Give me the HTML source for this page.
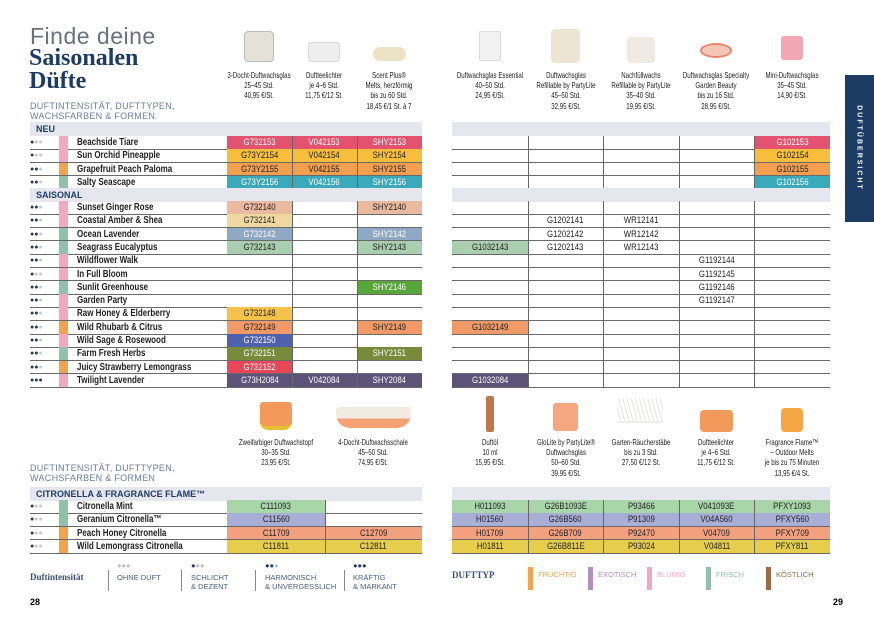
<!DOCTYPE html><html><head><meta charset="utf-8"><style>
*{margin:0;padding:0;box-sizing:border-box}
body{width:874px;height:620px;background:#fff;position:relative;overflow:hidden;font-family:"Liberation Sans",sans-serif}
.a{position:absolute}
.hdr{position:absolute;background:#e6e7ee;height:14px;font-weight:bold;font-size:9px;color:#1f3d66;padding-left:6px;line-height:14px}
.cell{position:absolute;height:13.3px;font-size:9.5px;line-height:13.3px;text-align:center;color:#222}
.cell span{display:inline-block;transform:scaleX(.82)}
.name{position:absolute;font-size:10px;font-weight:bold;line-height:13.3px;color:#222;transform:scaleX(.8);transform-origin:left;white-space:nowrap}
.hl{position:absolute;height:1px;background:#6a6a6a}
.vl{position:absolute;width:1px;background:#666}
.lab{position:absolute;font-size:8.5px;line-height:10.2px;text-align:center;color:#222;width:130px;margin-left:-65px;transform:scaleX(.72)}
.dots{position:absolute;font-size:7px;line-height:13px}
.sub{position:absolute;font-size:9px;color:#6b7ea0;line-height:10px;letter-spacing:.3px}
.lg{position:absolute;font-size:7.5px;color:#4a5f86;line-height:8.5px}
</style></head><body>
<div class="a" style="left:30px;top:23px;font-size:23px;color:#6a7080;letter-spacing:.5px">Finde deine</div>
<div class="a" style="left:29px;top:47px;font-family:'Liberation Serif',serif;font-weight:bold;font-size:24px;line-height:23px;color:#1d3c64">Saisonalen<br>Düfte</div>
<div class="sub" style="left:30px;top:101px">DUFTINTENSITÄT, DUFTTYPEN,<br>WACHSFARBEN &amp; FORMEN</div>
<div class="sub" style="left:30px;top:463px">DUFTINTENSITÄT, DUFTTYPEN,<br>WACHSFARBEN &amp; FORMEN</div>
<div class="a" style="left:845px;top:75px;width:29px;height:147px;background:#1d3c64"></div>
<div class="a" style="left:859px;top:148px;transform:translate(-50%,-50%) rotate(90deg);color:#fff;font-size:7px;font-weight:bold;letter-spacing:2px;white-space:nowrap">DUFTÜBERSICHT</div>
<div id="root"></div>
<div class="a" style="left:244px;top:31px;width:30px;height:31px;background:#e4e1d8;border-radius:4px;border:1px solid #bbb"></div>
<div class="a" style="left:308px;top:42px;width:32px;height:20px;background:#eee;border:1px solid #ddd;border-radius:3px"></div>
<div class="a" style="left:373px;top:47px;width:33px;height:14px;background:#ece2c6;border-radius:8px"></div>
<div class="a" style="left:479px;top:31px;width:22px;height:30px;background:#f2f2f2;border:1px solid #ddd;border-radius:2px"></div>
<div class="a" style="left:551px;top:29px;width:29px;height:34px;background:#ede5d3;border-radius:4px"></div>
<div class="a" style="left:627px;top:37px;width:28px;height:26px;background:#efebe2;border-radius:4px"></div>
<div class="a" style="left:700px;top:43px;width:32px;height:15px;background:#f4c8b5;border:2px solid #e9866c;border-radius:50%"></div>
<div class="a" style="left:781px;top:36px;width:22px;height:24px;background:#f3a6b3;border-radius:3px"></div>
<div class="a" style="left:260px;top:402px;width:32px;height:28px;background:#f39a5b;border-radius:3px 3px 8px 8px;border-bottom:4px solid #e8c02e"></div>
<div class="a" style="left:336px;top:407px;width:75px;height:21px;background:linear-gradient(#f1ebe1 55%,#f4a274 55%);border-radius:3px 3px 14px 14px"></div>
<div class="a" style="left:486px;top:396px;width:8px;height:36px;background:#c2774a;border-radius:2px"></div>
<div class="a" style="left:553px;top:403px;width:25px;height:28px;background:#f7a780;border-radius:3px"></div>
<div class="a" style="left:617px;top:398px;width:46px;height:25px;border-bottom:2px solid #eee;background:repeating-linear-gradient(75deg,#fff 0 3px,#e7e5e2 3px 4px)"></div>
<div class="a" style="left:700px;top:410px;width:33px;height:22px;background:#f39a5b;border-radius:4px"></div>
<div class="a" style="left:781px;top:408px;width:22px;height:24px;background:#f6a643;border-radius:4px"></div>
<div class="lab" style="left:259px;top:70px">3-Docht-Duftwachsglas<br>25–45 Std.<br>40,95 €/St.</div>
<div class="lab" style="left:324px;top:70px">Duftteelichter<br>je 4–6 Std.<br>11,75 €/12 St.</div>
<div class="lab" style="left:389px;top:70px">Scent Plus®<br>Melts, herzförmig<br>bis zu 60 Std.<br>18,45 €/1 St. à 7</div>
<div class="lab" style="left:490px;top:70px">Duftwachsglas Essential<br>40–50 Std.<br>24,95 €/St.</div>
<div class="lab" style="left:566px;top:70px">Duftwachsglas<br>Refillable by PartyLite<br>45–50 Std.<br>32,95 €/St.</div>
<div class="lab" style="left:641px;top:70px">Nachfüllwachs<br>Refillable by PartyLite<br>35–40 Std.<br>19,95 €/St.</div>
<div class="lab" style="left:716px;top:70px">Duftwachsglas Specialty<br>Garden Beauty<br>bis zu 16 Std.<br>28,95 €/St.</div>
<div class="lab" style="left:792px;top:70px">Mini-Duftwachsglas<br>35–45 Std.<br>14,90 €/St.</div>
<div class="lab" style="left:276px;top:437px">Zweifarbiger Duftwachstopf<br>30–35 Std.<br>23,95 €/St.</div>
<div class="lab" style="left:373px;top:437px">4-Docht-Duftwachsschale<br>45–50 Std.<br>74,95 €/St.</div>
<div class="lab" style="left:490px;top:437px">Duftöl<br>10 ml<br>15,95 €/St.</div>
<div class="lab" style="left:566px;top:437px">GloLite by PartyLite®<br>Duftwachsglas<br>50–60 Std.<br>39,95 €/St.</div>
<div class="lab" style="left:641px;top:437px">Garten-Räucherstäbe<br>bis zu 3 Std.<br>27,50 €/12 St.</div>
<div class="lab" style="left:716px;top:437px">Duftteelichter<br>je 4–6 Std.<br>11,75 €/12 St.</div>
<div class="lab" style="left:792px;top:437px">Fragrance Flame™<br>– Outdoor Melts<br>je bis zu 75 Minuten<br>13,95 €/4 St.</div>
<div class="a" style="left:30px;top:572px;font-family:'Liberation Serif',serif;font-weight:bold;font-size:9px;color:#3a4f78">Duftintensität</div>
<div class="a" style="left:108px;top:570px;width:1px;height:21px;background:#888"></div>
<div class="a" style="left:181px;top:570px;width:1px;height:21px;background:#888"></div>
<div class="a" style="left:255px;top:570px;width:1px;height:21px;background:#888"></div>
<div class="a" style="left:344px;top:570px;width:1px;height:21px;background:#888"></div>
<div class="lg" style="left:117px;top:562px;color:#bbc">●●●</div>
<div class="lg" style="left:117px;top:574px">OHNE DUFT</div>
<div class="lg" style="left:191px;top:562px;color:#1d3c64">●<span style="color:#bbc">●●</span></div>
<div class="lg" style="left:191px;top:574px">SCHLICHT<br>&amp; DEZENT</div>
<div class="lg" style="left:265px;top:562px;color:#1d3c64">●●<span style="color:#bbc">●</span></div>
<div class="lg" style="left:265px;top:574px">HARMONISCH<br>&amp; UNVERGESSLICH</div>
<div class="lg" style="left:353px;top:562px;color:#1d3c64">●●●</div>
<div class="lg" style="left:353px;top:574px">KRÄFTIG<br>&amp; MARKANT</div>
<div class="a" style="left:452px;top:570px;font-family:'Liberation Serif',serif;font-weight:bold;font-size:9px;color:#3a4f78">DUFTTYP</div>
<div class="a" style="left:528px;top:567px;width:5px;height:23px;background:#f4a24b"></div>
<div class="lg" style="left:538px;top:571px;color:#f4a24b">FRUCHTIG</div>
<div class="a" style="left:588px;top:567px;width:5px;height:23px;background:#b48ec0"></div>
<div class="lg" style="left:598px;top:571px;color:#b48ec0">EXOTISCH</div>
<div class="a" style="left:647px;top:567px;width:5px;height:23px;background:#f2a7c3"></div>
<div class="lg" style="left:657px;top:571px;color:#f2a7c3">BLUMIG</div>
<div class="a" style="left:706px;top:567px;width:5px;height:23px;background:#8fc1ad"></div>
<div class="lg" style="left:716px;top:571px;color:#8fc1ad">FRISCH</div>
<div class="a" style="left:766px;top:567px;width:5px;height:23px;background:#9a6a45"></div>
<div class="lg" style="left:776px;top:571px;color:#9a6a45">KÖSTLICH</div>
<div class="a" style="left:30px;top:597px;font-size:9px;font-weight:bold">28</div>
<div class="a" style="left:833px;top:597px;font-size:9px;font-weight:bold">29</div>
<script>
var R=document.getElementById('root'),h='';
function d(s){h+=s}
var P='#f2a7c3',O='#f4a24b',T='#8fc1ad';
var C={pk:['#e3536f','#fff'],ye:['#f6be3a','#222'],or:['#f3a04e','#222'],tl:['#3aa9b9','#fff'],sg:['#e9b9a0','#222'],ca:['#efd9a1','#222'],oc:['#8fa8c4','#fff'],se:['#a9cfb0','#222'],gr:['#58a53a','#fff'],ho:['#f5c34a','#222'],rh:['#f29a67','#222'],sa:['#4e61ae','#fff'],fa:['#7a8a3b','#fff'],ju:['#e8475a','#fff'],tw:['#5b5378','#fff'],mi:['#a9d6a8','#222'],ge:['#a9aed6','#222'],pe:['#f3a07e','#222'],le:['#e6cd4c','#222'],w:['transparent','#222']};
var LC=[227,292,357,422],RC=[452,527.6,603.2,678.8,754.4,830];
function dots(n,x,y){var s='';for(var i=0;i<3;i++)s+='<span style="color:'+(i<n?'#1d3c64':'#c5c8d4')+'">●</span>';d('<div class="dots" style="left:'+x+'px;top:'+y+'px">'+s+'</div>')}
function cell(x,w,y,t,c){var k=C[c||'w'];d('<div class="cell" style="left:'+x+'px;top:'+y+'px;width:'+w+'px;background:'+k[0]+';color:'+k[1]+'"><span>'+t+'</span></div>')}
function rows(list,y0,lc){
 list.forEach(function(r,i){var y=y0+i*13.3;
  dots(r[0],30,y);d('<div class="a" style="left:59px;top:'+y+'px;width:9px;height:13.3px;background:'+r[1]+'"></div>');
  d('<div class="name" style="left:77px;top:'+y+'px">'+r[2]+'</div>');
  (r[3]||[]).forEach(function(c,j){if(c)cell(lc[j],lc[j+1]-lc[j],y,c[0],c[1])});
  (r[4]||[]).forEach(function(c,j){if(c)cell(RC[j],RC[j+1]-RC[j],y,c[0],c[1])});
  d('<div class="hl" style="left:30px;top:'+(y+12.8)+'px;width:392px"></div>');
  d('<div class="hl" style="left:452px;top:'+(y+12.8)+'px;width:378px"></div>');
 });
 var H=list.length*13.3;
 for(var j=1;j<lc.length-1;j++)d('<div class="vl" style="left:'+lc[j]+'px;top:'+y0+'px;height:'+H+'px"></div>');
 for(var j=1;j<5;j++)d('<div class="vl" style="left:'+RC[j]+'px;top:'+y0+'px;height:'+H+'px"></div>');
}
d('<div class="hdr" style="left:30px;top:122px;width:392px">NEU</div><div class="hdr" style="left:452px;top:122px;width:378px"></div>');
rows([
[1,P,'Beachside Tiare',[['G732153','pk'],['V042153','pk'],['SHY2153','pk']],[0,0,0,0,['G102153','pk']]],
[1,P,'Sun Orchid Pineapple',[['G73Y2154','ye'],['V042154','ye'],['SHY2154','ye']],[0,0,0,0,['G102154','ye']]],
[2,O,'Grapefruit Peach Paloma',[['G73Y2155','or'],['V042155','or'],['SHY2155','or']],[0,0,0,0,['G102155','or']]],
[2,T,'Salty Seascape',[['G73Y2156','tl'],['V042156','tl'],['SHY2156','tl']],[0,0,0,0,['G102156','tl']]]
],136,LC);
d('<div class="hdr" style="left:30px;top:188px;width:392px">SAISONAL</div><div class="hdr" style="left:452px;top:188px;width:378px"></div>');
rows([
[2,P,'Sunset Ginger Rose',[['G732140','sg'],0,['SHY2140','sg']]],
[2,P,'Coastal Amber &amp; Shea',[['G732141','ca']],[0,['G1202141'],['WR12141']]],
[2,T,'Ocean Lavender',[['G732142','oc'],0,['SHY2142','oc']],[0,['G1202142'],['WR12142']]],
[2,T,'Seagrass Eucalyptus',[['G732143','se'],0,['SHY2143','se']],[['G1032143','se'],['G1202143'],['WR12143']]],
[2,P,'Wildflower Walk',[],[0,0,0,['G1192144']]],
[1,P,'In Full Bloom',[],[0,0,0,['G1192145']]],
[2,T,'Sunlit Greenhouse',[0,0,['SHY2146','gr']],[0,0,0,['G1192146']]],
[2,P,'Garden Party',[],[0,0,0,['G1192147']]],
[2,P,'Raw Honey &amp; Elderberry',[['G732148','ho']]],
[2,O,'Wild Rhubarb &amp; Citrus',[['G732149','rh'],0,['SHY2149','rh']],[['G1032149','rh']]],
[2,P,'Wild Sage &amp; Rosewood',[['G732150','sa']]],
[2,T,'Farm Fresh Herbs',[['G732151','fa'],0,['SHY2151','fa']]],
[2,O,'Juicy Strawberry Lemongrass',[['G732152','ju']]],
[3,P,'Twilight Lavender',[['G73H2084','tw'],['V042084','tw'],['SHY2084','tw']],[['G1032084','tw']]]
],201,LC);
d('<div class="hdr" style="left:30px;top:487px;width:392px">CITRONELLA &amp; FRAGRANCE FLAME™</div><div class="hdr" style="left:452px;top:487px;width:378px"></div>');
rows([
[1,T,'Citronella Mint',[['C111093','mi']],[['H011093','mi'],['G26B1093E','mi'],['P93466','mi'],['V041093E','mi'],['PFXY1093','mi']]],
[1,T,'Geranium Citronella™',[['C11560','ge']],[['H01560','ge'],['G26B560','ge'],['P91309','ge'],['V04A560','ge'],['PFXY560','ge']]],
[1,O,'Peach Honey Citronella',[['C11709','pe'],['C12709','pe']],[['H01709','pe'],['G26B709','pe'],['P92470','pe'],['V04709','pe'],['PFXY709','pe']]],
[1,O,'Wild Lemongrass Citronella',[['C11811','le'],['C12811','le']],[['H01811','le'],['G26B811E','le'],['P93024','le'],['V04811','le'],['PFXY811','le']]]
],500,[227,325,422]);
R.innerHTML=h;
</script>
</body></html>
